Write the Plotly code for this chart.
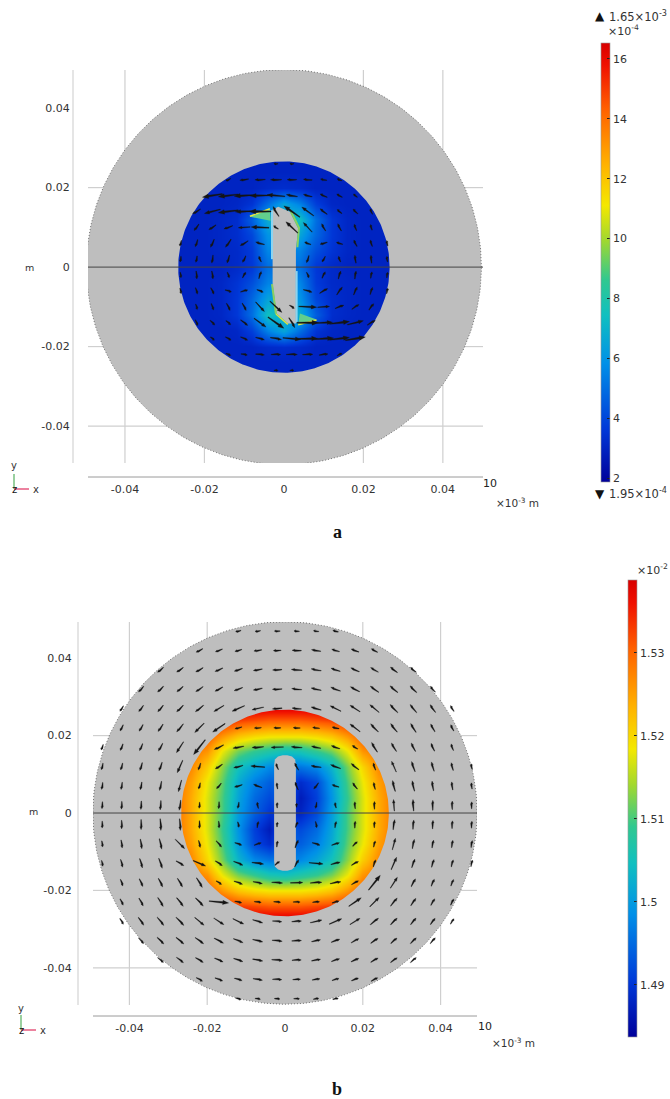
import numpy as np
import plotly.graph_objects as go

W, H = 670, 1099

# ---------- axis labels ----------
tick_vals = [-0.04, -0.02, 0, 0.02, 0.04]
tick_text_x = ["-0.04", "-0.02", "0", "0.02", "0.04"]
tick_text_y = ["-0.04", "-0.02", "0", "0.02", "0.04"]
grid_x = [-0.04, -0.02, 0.02, 0.04]
grid_y = [-0.04, -0.02, 0.02]

cbar_a_ticks = [2, 4, 6, 8, 10, 12, 14, 16]
cbar_b_ticks = [1.49, 1.50, 1.51, 1.52, 1.53]
cbar_b_text = ["1.49", "1.5", "1.51", "1.52", "1.53"]

rainbow = [[0, "#00009a"], [.12, "#0038d8"], [.27, "#0090e8"], [.38, "#10c0c0"], [.46, "#30c890"],
           [.55, "#a0d830"], [.63, "#f4e800"], [.72, "#ffb400"], [.85, "#ff6000"], [.95, "#f01000"], [1, "#d80000"]]

# ---------- geometry of the discs (m) ----------
outer_r_a, inner_r_a = 0.0497, 0.0266
outer_r_b, inner_r_b = 0.0494, 0.0267

slit_a_x = [-.00284, -.00143, .00151, .0036, .00302, .00302, .00109, -.00184, -.00284]
slit_a_y = [.01451, .01517, .01392, .00973, .00428, -.01417, -.01417, -.01165, -.0041]
slit_b_x = [-.0028, -.0026, -.0018, -.0006, .0006, .0018, .0026, .0028, .0028, .0026, .0018, .0006, -.0006, -.0018, -.0026, -.0028]
slit_b_y = [.0125, .0138, .0146, .0149, .0149, .0146, .0138, .0125, -.0125, -.0138, -.0146, -.0149, -.0149, -.0146, -.0138, -.0125]

# ---------- colour field tables (rows run from top, y = 28 ... -28 mm) ----------
field_axis = [-.028, -.024, -.020, -.016, -.012, -.008, -.004, 0, .004, .008, .012, .016, .020, .024, .028]

field_a = [
    [3.0] * 15,
    [3.0] * 15,
    [3.0, 3.0, 3.0, 3.0, 3.0, 3.0, 3.2, 3.3, 3.2, 3.0, 3.0, 3.0, 3.0, 3.0, 3.0],
    [3.0, 3.0, 3.0, 3.0, 3.1, 3.5, 5.0, 6.5, 5.5, 3.8, 3.1, 3.0, 3.0, 3.0, 3.0],
    [3.0, 3.0, 3.0, 3.1, 3.3, 4.6, 6.8, 7.0, 7.5, 5.0, 3.6, 3.1, 3.0, 3.0, 3.0],
    [3.0, 3.0, 3.0, 3.1, 3.3, 4.0, 6.0, 6.0, 6.5, 4.8, 3.6, 3.1, 3.0, 3.0, 3.0],
    [3.0, 3.0, 3.0, 3.1, 3.2, 3.7, 5.6, 5.5, 5.5, 4.2, 3.5, 3.1, 3.0, 3.0, 3.0],
    [3.0, 3.0, 3.0, 3.0, 3.2, 3.6, 5.0, 5.0, 5.0, 3.6, 3.2, 3.0, 3.0, 3.0, 3.0],
    [3.0, 3.0, 3.0, 3.1, 3.5, 4.2, 5.5, 5.5, 5.6, 3.7, 3.2, 3.1, 3.0, 3.0, 3.0],
    [3.0, 3.0, 3.0, 3.1, 3.6, 4.8, 6.5, 6.0, 6.0, 4.0, 3.3, 3.1, 3.0, 3.0, 3.0],
    [3.0, 3.0, 3.0, 3.1, 3.6, 5.0, 7.5, 7.0, 6.8, 4.6, 3.3, 3.1, 3.0, 3.0, 3.0],
    [3.0, 3.0, 3.0, 3.0, 3.1, 3.8, 5.5, 6.5, 5.0, 3.5, 3.1, 3.0, 3.0, 3.0, 3.0],
    [3.0, 3.0, 3.0, 3.0, 3.0, 3.0, 3.2, 3.3, 3.2, 3.0, 3.0, 3.0, 3.0, 3.0, 3.0],
    [3.0] * 15,
    [3.0] * 15,
]

field_b = [
    [1.540] * 15,
    [1.537, 1.537, 1.537, 1.535, 1.533, 1.532, 1.531, 1.531, 1.531, 1.532, 1.533, 1.535, 1.537, 1.537, 1.537],
    [1.534, 1.533, 1.531, 1.526, 1.522, 1.520, 1.519, 1.519, 1.519, 1.520, 1.522, 1.526, 1.531, 1.533, 1.534],
    [1.531, 1.529, 1.526, 1.518, 1.512, 1.509, 1.507, 1.505, 1.506, 1.509, 1.512, 1.518, 1.526, 1.529, 1.531],
    [1.530, 1.527, 1.521, 1.513, 1.505, 1.501, 1.498, 1.497, 1.496, 1.498, 1.503, 1.512, 1.520, 1.527, 1.530],
    [1.529, 1.525, 1.518, 1.511, 1.502, 1.497, 1.494, 1.495, 1.489, 1.492, 1.500, 1.510, 1.518, 1.525, 1.529],
    [1.529, 1.524, 1.517, 1.510, 1.501, 1.495, 1.492, 1.495, 1.487, 1.491, 1.499, 1.509, 1.517, 1.524, 1.529],
    [1.529, 1.524, 1.517, 1.510, 1.500, 1.494, 1.490, 1.490, 1.488, 1.492, 1.500, 1.510, 1.517, 1.524, 1.529],
    [1.529, 1.524, 1.517, 1.509, 1.499, 1.491, 1.487, 1.495, 1.492, 1.495, 1.501, 1.510, 1.517, 1.524, 1.529],
    [1.529, 1.525, 1.518, 1.510, 1.500, 1.492, 1.489, 1.495, 1.494, 1.497, 1.502, 1.511, 1.518, 1.525, 1.529],
    [1.530, 1.527, 1.520, 1.512, 1.503, 1.498, 1.496, 1.497, 1.498, 1.501, 1.505, 1.513, 1.521, 1.527, 1.530],
    [1.531, 1.529, 1.526, 1.518, 1.512, 1.509, 1.506, 1.505, 1.507, 1.509, 1.512, 1.518, 1.526, 1.529, 1.531],
    [1.534, 1.533, 1.531, 1.526, 1.522, 1.520, 1.519, 1.519, 1.519, 1.520, 1.522, 1.526, 1.531, 1.533, 1.534],
    [1.537, 1.537, 1.537, 1.535, 1.533, 1.532, 1.531, 1.531, 1.531, 1.532, 1.533, 1.535, 1.537, 1.537, 1.537],
    [1.540] * 15,
]

# ---------- arrows of panel a (units of 1e-4 m) ----------
arrow_cols_a = [-.026, -.022, -.018, -.014, -.010, -.006, -.002, .002, .006, .010, .014, .018, .022, .026]
arrow_rows_a = [.026, .022, .018, .014, .010, .006, .002, -.002, -.006, -.010, -.014, -.018, -.022, -.026]
arrow_u_a = [
    [0, 0, 0, 0, 0, 0, -10, -10, 0, 0, 0, 0, 0, 0],
    [0, 0, 0, -12, -22, -26, -28, -24, -22, -16, -12, 0, 0, 0],
    [0, 0, -50, -50, -50, -50, -45, -28, -22, -18, -14, -10, 0, 0],
    [0, -20, -40, -50, -45, -55, -15, -40, -30, -18, -12, -12, -6, 0],
    [0, -12, -18, -22, -30, -45, -12, -30, -22, -10, -9, -6, -4, 0],
    [-4, -6, -9, -14, -20, -22, 0, 0, -16, -18, -16, -8, -5, -3],
    [-2, -3, -3, -6, -8, -6, 0, 0, -6, -8, -5, -3, -2, -2],
    [2, 2, 3, 5, 8, 6, 0, 0, 6, 8, 6, 3, 3, 2],
    [3, 5, 8, 16, 18, 16, 0, 0, 22, 20, 14, 9, 6, 3],
    [0, 4, 6, 9, 10, 22, 30, 12, 45, 30, 22, 18, 12, 0],
    [0, 6, 12, 12, 18, 30, 40, 15, 55, 45, 50, 40, 20, 0],
    [0, 0, 10, 14, 18, 22, 28, 45, 50, 50, 50, 50, 0, 0],
    [0, 0, 0, 12, 16, 22, 24, 28, 26, 22, 12, 0, 0, 0],
    [0, 0, 0, 0, 0, 0, 10, 10, 0, 0, 0, 0, 0, 0],
]
arrow_v_a = [
    [0, 0, 0, 0, 0, 0, 0, 0, 0, 0, 0, 0, 0, 0],
    [0, 0, 0, -6, -3, -1, 0, 0, 2, 3, 5, 0, 0, 0],
    [0, 0, -8, -6, -3, -1, 4, 5, 6, 8, 8, 8, 0, 0],
    [0, -12, -10, -6, -2, 0, 25, 28, 22, 14, 10, 12, 14, 0],
    [0, -16, -12, -8, -2, 2, 8, 28, 24, 18, 18, 16, 14, 0],
    [-14, -18, -20, -20, -12, 6, 0, 0, 6, -5, 5, 16, 16, 14],
    [-14, -16, -20, -20, -16, 14, 0, 0, -18, -14, 14, 20, 20, 14],
    [-14, -20, -20, -14, 14, 18, 0, 0, -14, 16, 20, 20, 16, 14],
    [-14, -16, -16, -5, 5, -6, 0, 0, -6, 12, 20, 20, 18, 14],
    [0, -14, -16, -18, -18, -24, -28, -8, -2, 2, 8, 12, 16, 0],
    [0, -14, -12, -10, -14, -22, -28, -25, 0, 2, 6, 10, 12, 0],
    [0, 0, -8, -8, -8, -6, -5, -4, 1, 3, 6, 8, 0, 0],
    [0, 0, 0, -5, -3, -2, 0, 0, 1, 3, 6, 0, 0, 0],
    [0, 0, 0, 0, 0, 0, 0, 0, 0, 0, 0, 0, 0, 0],
]

# ---------- arrows of panel b (units of 1e-4 m) ----------
arrow_cols_b = [-.047, -.042, -.037, -.032, -.027, -.022, -.017, -.012, -.007, -.002,
                .003, .008, .013, .018, .023, .028, .033, .038, .043, .048]
arrow_rows_b = [.047, .042, .037, .032, .027, .022, .017, .012, .007, .002,
                -.003, -.008, -.013, -.018, -.023, -.028, -.033, -.038, -.043, -.048]
arrow_u_b = [
    [0, 0, 0, 0, 0, 0, 0, -14, -14, -15, -14, -14, -14, 0, 0, 0, 0, 0, 0, 0],
    [0, 0, 0, 0, 0, -17, -18, -18, -20, -20, -24, -24, -20, -20, -16, 0, 0, 0, 0, 0],
    [0, 0, 0, -15, -17, -19, -20, -21, -23, -24, -28, -26, -24, -22, -20, -18, -15, 0, 0, 0],
    [0, 0, -13, -15, -16, -19, -20, -22, -23, -25, -26, -26, -25, -24, -22, -20, -17, -13, 0, 0],
    [0, -9, -12, -14, -17, -21, -26, -32, -30, -25, -24, -26, -28, -26, -24, -20, -17, -14, -9, 0],
    [0, -8, -10, -13, -17, -24, -32, -18, -18, -18, -18, -18, -18, -26, -20, -17, -14, -11, -8, 0],
    [-5, -7, -8, -11, -18, -30, -24, -28, -30, -32, -28, -24, -22, -14, -15, -13, -11, -9, -6, 0],
    [-4, -5, -6, -8, -14, -6, -18, -24, -36, -6, -10, -26, -26, -20, -6, -12, -9, -7, -5, -3],
    [-3, -3, -4, -5, -8, -4, -12, -20, -22, -2, -8, -12, -18, -12, -4, -7, -6, -4, -3, -2],
    [-1, -1, -1, -2, -4, -1, -1, -3, -3, 0, 0, -3, -3, -1, 0, -2, -2, 0, 0, 0],
    [0, 0, 0, 2, 2, 0, 1, 3, 3, 1, 6, 3, 3, 1, 1, 4, 2, 1, 1, 1],
    [2, 3, 4, 6, 24, 4, 14, 18, 18, 2, 8, 20, 20, 12, 4, 8, 5, 4, 3, 3],
    [3, 5, 7, 9, 20, 32, 18, 24, 30, 12, 10, 36, 24, 18, 6, 14, 8, 6, 5, 4],
    [0, 6, 9, 11, 13, 15, 14, 22, 24, 28, 32, 30, 28, 18, 30, 18, 11, 8, 7, 0],
    [0, 8, 11, 14, 17, 20, 50, 18, 18, 18, 18, 18, 18, 32, 24, 17, 13, 10, 8, 0],
    [0, 9, 14, 17, 20, 24, 26, 28, 26, 24, 25, 30, 32, 26, 21, 17, 14, 12, 9, 0],
    [0, 0, 13, 17, 20, 22, 24, 25, 26, 26, 25, 23, 22, 20, 19, 16, 15, 13, 0, 0],
    [0, 0, 0, 15, 18, 20, 22, 24, 26, 28, 24, 23, 21, 20, 19, 17, 15, 0, 0, 0],
    [0, 0, 0, 0, 0, 16, 20, 20, 24, 24, 20, 20, 18, 18, 17, 0, 0, 0, 0, 0],
    [0, 0, 0, 0, 0, 0, 0, 14, 14, 14, 15, 14, 14, 0, 0, 0, 0, 0, 0, 0],
]
arrow_v_b = [
    [0, 0, 0, 0, 0, 0, 0, -3, -2, 0, 1, 2, 4, 0, 0, 0, 0, 0, 0, 0],
    [0, 0, 0, 0, 0, -9, -7, -5, -3, -1, 1, 4, 6, 8, 9, 0, 0, 0, 0, 0],
    [0, 0, 0, -13, -12, -11, -9, -7, -4, -1, 2, 5, 8, 10, 12, 14, 13, 0, 0, 0],
    [0, 0, -15, -15, -14, -13, -11, -8, -5, -1, 3, 6, 10, 13, 16, 17, 17, 15, 0, 0],
    [0, -14, -16, -17, -17, -17, -16, -14, -7, -2, 2, 8, 14, 17, 20, 21, 21, 20, 15, 0],
    [0, -16, -17, -19, -21, -24, -22, -5, -1, 0, 1, 2, 4, 20, 21, 22, 23, 20, 16, 0],
    [-14, -17, -18, -20, -28, -38, -12, -5, -2, -1, 2, 5, 8, 9, 25, 22, 22, 20, 17, 0],
    [-17, -18, -20, -22, -32, -18, -12, -6, 3, 16, 18, 4, 10, 16, 18, 28, 26, 24, 20, 15],
    [-18, -19, -20, -24, -30, -16, -14, -6, 8, 16, 20, -16, 6, 16, 18, 28, 27, 25, 21, 16],
    [-18, -20, -22, -24, -26, -16, -18, -16, 16, 14, 10, -16, 14, 18, 20, 30, 30, 26, 22, 18],
    [-18, -22, -26, -30, -30, -20, -18, -14, 16, 12, 14, -16, 16, 18, 16, 26, 24, 22, 20, 18],
    [-16, -21, -25, -27, -24, -18, -16, -6, 6, 16, 20, -6, 6, 12, 16, 30, 24, 20, 19, 18],
    [-15, -20, -24, -26, -12, -14, -12, -10, -4, 10, 18, -3, 6, 10, 18, 32, 22, 20, 18, 17],
    [0, -17, -20, -22, -22, -25, -9, -8, -5, -2, 1, 2, 5, 10, 38, 28, 20, 18, 17, 0],
    [0, -16, -20, -23, -22, -21, -5, -4, -2, -1, 0, 1, 5, 22, 24, 21, 19, 17, 16, 0],
    [0, -15, -20, -21, -21, -20, -17, -14, -8, -2, 2, 7, 14, 16, 17, 17, 17, 16, 14, 0],
    [0, 0, -15, -17, -17, -16, -13, -10, -6, -3, 1, 5, 8, 11, 13, 14, 15, 15, 0, 0],
    [0, 0, 0, -13, -14, -12, -10, -8, -5, -2, 1, 4, 7, 9, 11, 12, 13, 0, 0, 0],
    [0, 0, 0, 0, 0, -9, -8, -6, -4, -1, 1, 3, 5, 7, 9, 0, 0, 0, 0, 0],
    [0, 0, 0, 0, 0, 0, 0, -4, -2, -1, 0, 2, 3, 0, 0, 0, 0, 0, 0, 0],
]

# ---------- hot spots of panel a ----------
hot_patches = [
    ([-.00855, -.00352, -.00335], [.01266, .01451, .01166], "#62cf8c"),
    ([.0036, .00822, .00403], [-.01434, -.01317, -.01166], "#62cf8c"),
]
hot_edges = [
    ([-.0030, -.0030], [.0143, .0020], "#8cd4f0", 2),
    ([.0032, .0032], [-.0140, -.0010], "#8cd4f0", 2),
    ([-.00855, -.00352], [.01280, .01470], "#e8e840", 1.5),
    ([.0036, .00822], [-.01450, -.01330], "#e8e840", 1.5),
    ([.0017, .0038, .0034], [.0141, .0099, .0050], "#88d060", 2),
    ([-.0020, -.0030], [-.0118, -.0043], "#88d060", 2),
    ([.0010, -.0020], [-.0144, -.0118], "#e0e040", 1.5),
]


def dom_x(p0, p1):
    return [p0 / W, p1 / W]


def dom_y(p0, p1):
    return [1 - p1 / H, 1 - p0 / H]


def arrow_polys(cols, rows, U, V):
    xs, ys = [], []
    for j, y in enumerate(rows):
        for i, x in enumerate(cols):
            u, v = U[j][i] * 1e-4, V[j][i] * 1e-4
            L = float(np.hypot(u, v))
            if L == 0:
                continue
            dx, dy = u / L, v / L
            nx, ny = -dy, dx
            sw = max(.045 * L, .00014)
            hw = max(.11 * L, .0003)
            hl = .3 * L
            tail = (x - dx * L / 2, y - dy * L / 2)
            tip = (x + dx * L / 2, y + dy * L / 2)
            base = (tip[0] - dx * hl, tip[1] - dy * hl)
            pts = [(tail[0] + nx * sw * .5, tail[1] + ny * sw * .5),
                   (base[0] + nx * sw, base[1] + ny * sw),
                   (base[0] + nx * hw, base[1] + ny * hw), tip,
                   (base[0] - nx * hw, base[1] - ny * hw),
                   (base[0] - nx * sw, base[1] - ny * sw),
                   (tail[0] - nx * sw * .5, tail[1] - ny * sw * .5)]
            xs += [p[0] for p in pts] + [pts[0][0], None]
            ys += [p[1] for p in pts] + [pts[0][1], None]
    return xs, ys


def annulus(R, r):
    t = np.linspace(0, 2 * np.pi, 361)
    xs = list(R * np.cos(t)) + list(r * np.cos(t[::-1]))
    ys = list(R * np.sin(t)) + list(r * np.sin(t[::-1]))
    return xs + [xs[0]], ys + [ys[0]]


GRAY = "#bebebe"
fig = go.Figure()


def panel(xa, ya, xrange_, yrange_, R, r, field, zmin, zmax, cbar, slit_x, slit_y, cols, rows, U, V, hot):
    ax, ay = xa, ya
    fig.add_trace(go.Heatmap(x=field_axis, y=field_axis[:], z=field[::-1], zmin=zmin, zmax=zmax, zsmooth="best",
                             colorscale=rainbow, colorbar=cbar, xaxis=ax, yaxis=ay, hoverinfo="skip"))
    # grid lines stop under the grey disc, so they never cross the coloured inner disc
    gx, gy = [], []
    for g in grid_x:
        e = (R * R - g * g) ** .5 - .002
        gx += [g, g, None, g, g, None]
        gy += [yrange_[1], e, None, -e, yrange_[0], None]
    for g in grid_y:
        e = (R * R - g * g) ** .5 - .002
        gx += [xrange_[0], -e, None, e, xrange_[1], None]
        gy += [g, g, None, g, g, None]
    fig.add_trace(go.Scatter(x=gx, y=gy, mode="lines", line=dict(color="#cfcfcf", width=1.2), xaxis=ax, yaxis=ay))
    ax_x, ax_y = annulus(R, r)
    fig.add_trace(go.Scatter(x=ax_x, y=ax_y, mode="lines", fill="toself", fillcolor=GRAY, line=dict(width=0),
                             cliponaxis=False, xaxis=ax, yaxis=ay))
    t = np.linspace(0, 2 * np.pi, 361)
    fig.add_trace(go.Scatter(x=R * np.cos(t), y=R * np.sin(t), mode="lines", line=dict(color="#555555", width=.8, dash="1px,2px"),
                             cliponaxis=False, xaxis=ax, yaxis=ay))
    fig.add_trace(go.Scatter(x=slit_x + slit_x[:1], y=slit_y + slit_y[:1], mode="lines", fill="toself", fillcolor=GRAY,
                             line=dict(width=0), xaxis=ax, yaxis=ay))
    if hot:
        for hx, hy, c in hot_patches:
            fig.add_trace(go.Scatter(x=hx + hx[:1], y=hy + hy[:1], mode="lines", fill="toself", fillcolor=c,
                                     line=dict(width=0), xaxis=ax, yaxis=ay))
        for hx, hy, c, w in hot_edges:
            fig.add_trace(go.Scatter(x=hx, y=hy, mode="lines", line=dict(color=c, width=w), xaxis=ax, yaxis=ay))
    fig.add_trace(go.Scatter(x=[xrange_[0], xrange_[1]], y=[0, 0], mode="lines", line=dict(color="#444444", width=1),
                             xaxis=ax, yaxis=ay))
    px_, py_ = arrow_polys(cols, rows, U, V)
    fig.add_trace(go.Scatter(x=px_, y=py_, mode="lines", fill="toself", fillcolor="#141414",
                             line=dict(width=.3, color="#141414"), cliponaxis=False, xaxis=ax, yaxis=ay))


def colorbar(left, top, bottom, ticks, text=None):
    d = dict(x=left / W, xanchor="left", y=1 - top / H, yanchor="top", len=(bottom - top) / H, lenmode="fraction",
             thickness=9, thicknessmode="pixels", xpad=0, ypad=0, outlinewidth=.6, outlinecolor="#999999",
             ticks="inside", ticklen=3, tickcolor="#222222", tickvals=ticks,
             tickfont=dict(family="DejaVu Sans", size=11, color="#333333"))
    if text:
        d["ticktext"] = text
    else:
        d["ticktext"] = [str(v) for v in ticks]
    return d


panel("x", "y", [-.0493, .0501], [-.0493, .0496], outer_r_a, inner_r_a, field_a, 1.87, 16.53,
      colorbar(601, 43, 482, cbar_a_ticks), slit_a_x, slit_a_y, arrow_cols_a, arrow_rows_a, arrow_u_a, arrow_v_a, True)
panel("x2", "y2", [-.04936, .04936], [-.0496, .04935], outer_r_b, inner_r_b, field_b, 1.4837, 1.5388,
      colorbar(628, 580, 1037, cbar_b_ticks, cbar_b_text), slit_b_x, slit_b_y, arrow_cols_b, arrow_rows_b, arrow_u_b, arrow_v_b, False)

tick_font = dict(family="DejaVu Sans", size=11, color="#333333")


def axis(domain, rng, text, ticklen, anchor):
    return dict(domain=domain, range=rng, anchor=anchor, tickmode="array", tickvals=tick_vals, ticktext=text,
                showgrid=False, zeroline=False, showline=False, ticks="outside", ticklen=ticklen,
                tickcolor="rgba(0,0,0,0)", tickfont=tick_font)


shapes = []


def pline(x0, y0, x1, y1, color, width=1):
    shapes.append(dict(type="line", xref="paper", yref="paper", x0=x0 / W, x1=x1 / W, y0=1 - y0 / H, y1=1 - y1 / H,
                       line=dict(color=color, width=width)))


# axis rules
pline(88, 477, 483, 477, "#9a9a9a")
pline(73, 70, 73, 463, "#d4d4d4", 1.2)
pline(93, 1016, 477, 1016, "#9a9a9a")
pline(78, 622, 78, 1005, "#d4d4d4", 1.2)
# triads
pline(14, 489, 14, 474, "#55b060", 1.2)
pline(14, 489, 29, 489, "#e0305f", 1.2)
pline(21, 1030, 21, 1015, "#55b060", 1.2)
pline(21, 1030, 36, 1030, "#e0305f", 1.2)

notes = [
    ("▲", 600, 16, 12, "#111111", "DejaVu Sans", False),
    ("1.65×10<sup>-3</sup>", 638, 17, 11.5, "#333333", "DejaVu Sans", False),
    ("×10<sup>-4</sup>", 623, 30, 11, "#333333", "DejaVu Sans", False),
    ("▼", 600, 494, 12, "#111111", "DejaVu Sans", False),
    ("1.95×10<sup>-4</sup>", 638, 494, 11.5, "#333333", "DejaVu Sans", False),
    ("10", 490, 484, 11, "#222222", "DejaVu Sans", False),
    ("×10<sup>-3</sup> m", 517, 502, 10.5, "#333333", "DejaVu Sans", False),
    ("m", 29, 267, 9.5, "#333333", "DejaVu Sans", False),
    ("y", 14, 466, 10, "#333333", "DejaVu Sans", False),
    ("z", 14, 489, 10, "#111111", "DejaVu Sans", False),
    ("x", 36, 489, 10, "#333333", "DejaVu Sans", False),
    ("a", 337, 532, 18, "#111111", "Liberation Serif", True),
    ("×10<sup>-2</sup>", 652, 569, 11, "#333333", "DejaVu Sans", False),
    ("10", 485, 1026, 11, "#222222", "DejaVu Sans", False),
    ("×10<sup>-3</sup> m", 513, 1042, 10.5, "#333333", "DejaVu Sans", False),
    ("m", 33, 812, 9.5, "#333333", "DejaVu Sans", False),
    ("y", 21, 1008, 10, "#333333", "DejaVu Sans", False),
    ("z", 21, 1030, 10, "#111111", "DejaVu Sans", False),
    ("x", 43, 1030, 10, "#333333", "DejaVu Sans", False),
    ("b", 337, 1089, 18, "#111111", "Liberation Serif", True),
]
annotations = [dict(text=f"<b>{t}</b>" if b else t, x=x / W, y=1 - y / H, xref="paper", yref="paper", showarrow=False,
                    xanchor="center", yanchor="middle", font=dict(size=s, color=c, family=fam))
               for t, x, y, s, c, fam, b in notes]

fig.update_layout(
    width=W, height=H, autosize=False, showlegend=False,
    paper_bgcolor="white", plot_bgcolor="white",
    margin=dict(l=0, r=0, t=0, b=0, pad=0, autoexpand=False),
    xaxis=axis(dom_x(88, 483), [-.0493, .0501], tick_text_x, 16, "y"),
    yaxis=axis(dom_y(70, 463), [-.0493, .0496], tick_text_y, 15, "x"),
    xaxis2=axis(dom_x(93, 477), [-.04936, .04936], tick_text_x, 13, "y2"),
    yaxis2=axis(dom_y(622, 1005), [-.0496, .04935], tick_text_y, 18, "x2"),
    shapes=shapes, annotations=annotations,
)
fig.write_html("out.html", config={"displayModeBar": False},
               post_script="document.body.style.margin='0';document.documentElement.style.overflow='hidden';")
